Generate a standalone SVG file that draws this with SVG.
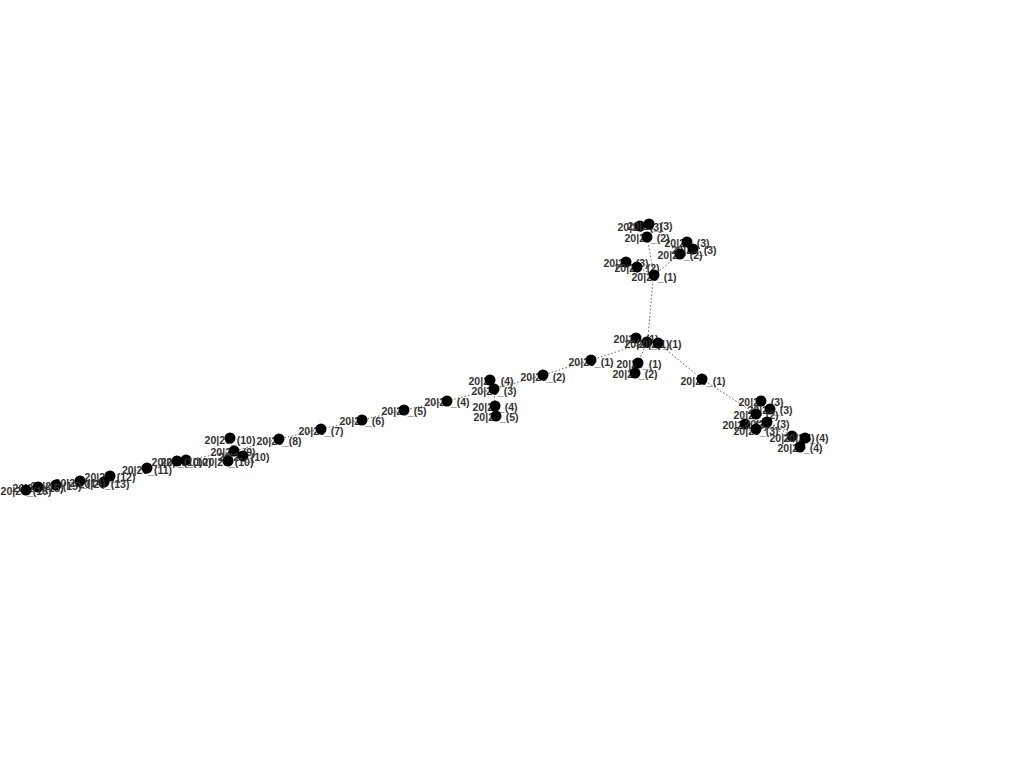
<svg xmlns="http://www.w3.org/2000/svg" width="1024" height="768" viewBox="0 0 1024 768">
<style>
.bg{fill:#fff}
.e line{stroke:#555;stroke-width:0.9;stroke-dasharray:1.6,2}
.n circle{fill:#000}
.n text{font-family:"Liberation Sans",Arial,sans-serif;font-weight:bold;font-size:10.5px;fill:#333;text-anchor:middle}
</style>
<rect class="bg" width="1024" height="768"/>
<g id="connectors" class="e">
<line x1="653" y1="280" x2="648" y2="337"/>
<line x1="654" y1="275" x2="647" y2="237"/>
<line x1="647" y1="237" x2="640" y2="226"/>
<line x1="647" y1="237" x2="649" y2="224"/>
<line x1="654" y1="275" x2="680" y2="254"/>
<line x1="680" y1="254" x2="687" y2="242"/>
<line x1="680" y1="254" x2="693" y2="249"/>
<line x1="654" y1="275" x2="637" y2="267"/>
<line x1="637" y1="267" x2="626" y2="262"/>
<line x1="647" y1="342" x2="591" y2="360"/>
<line x1="647" y1="342" x2="636" y2="338"/>
<line x1="647" y1="342" x2="658" y2="343"/>
<line x1="647" y1="342" x2="638" y2="363"/>
<line x1="638" y1="363" x2="635" y2="373"/>
<line x1="658" y1="343" x2="702" y2="379"/>
<line x1="702" y1="379" x2="756" y2="414"/>
<line x1="756" y1="414" x2="761" y2="401"/>
<line x1="756" y1="414" x2="770" y2="409"/>
<line x1="756" y1="414" x2="745" y2="424"/>
<line x1="756" y1="414" x2="767" y2="422"/>
<line x1="756" y1="414" x2="756" y2="429"/>
<line x1="767" y1="422" x2="792" y2="436"/>
<line x1="767" y1="422" x2="805" y2="438"/>
<line x1="767" y1="422" x2="800" y2="447"/>
<line x1="591" y1="360" x2="543" y2="375"/>
<line x1="543" y1="375" x2="494" y2="389"/>
<line x1="494" y1="389" x2="490" y2="380"/>
<line x1="494" y1="389" x2="495" y2="406"/>
<line x1="495" y1="406" x2="496" y2="416"/>
<line x1="494" y1="389" x2="447" y2="401"/>
<line x1="447" y1="401" x2="404" y2="410"/>
<line x1="404" y1="410" x2="362" y2="420"/>
<line x1="362" y1="420" x2="321" y2="429"/>
<line x1="321" y1="429" x2="279" y2="439"/>
<line x1="279" y1="439" x2="234" y2="451"/>
<line x1="234" y1="451" x2="230" y2="438"/>
<line x1="234" y1="451" x2="243" y2="456"/>
<line x1="234" y1="451" x2="228" y2="461"/>
<line x1="234" y1="451" x2="186" y2="460"/>
<line x1="186" y1="460" x2="177" y2="461"/>
<line x1="177" y1="461" x2="147" y2="468"/>
<line x1="147" y1="468" x2="110" y2="476"/>
<line x1="110" y1="476" x2="104" y2="482"/>
<line x1="104" y1="482" x2="80" y2="481"/>
<line x1="80" y1="481" x2="56" y2="485"/>
<line x1="56" y1="485" x2="38" y2="487"/>
<line x1="38" y1="487" x2="26" y2="490"/>
</g>
<g id="t3a" class="n"><text x="640" y="231">20|20_(3)</text><circle cx="640" cy="226" r="5.5"/></g>
<g id="t3b" class="n"><text x="650" y="230">20|20_(3)</text><circle cx="649" cy="224" r="5.5"/></g>
<g id="t2a" class="n"><text x="647" y="242">20|20_(2)</text><circle cx="647" cy="237" r="5.5"/></g>
<g id="t3c" class="n"><text x="687" y="247">20|20_(3)</text><circle cx="687" cy="242" r="5.5"/></g>
<g id="t3d" class="n"><text x="694" y="254">20|20_(3)</text><circle cx="693" cy="249" r="5.5"/></g>
<g id="t2b" class="n"><text x="680" y="259">20|20_(2)</text><circle cx="680" cy="254" r="5.5"/></g>
<g id="t3e" class="n"><text x="626" y="267">20|20_(3)</text><circle cx="626" cy="262" r="5.5"/></g>
<g id="t2c" class="n"><text x="637" y="272">20|20_(2)</text><circle cx="637" cy="267" r="5.5"/></g>
<g id="t1" class="n"><text x="654" y="281">20|20_(1)</text><circle cx="654" cy="275" r="5.5"/></g>
<g id="c1" class="n"><text x="636" y="343">20|20_(1)</text><circle cx="636" cy="338" r="5.5"/></g>
<g id="c2" class="n"><text x="647" y="348">20|20_(1)</text><circle cx="647" cy="342" r="5.5"/></g>
<g id="c3" class="n"><text x="659" y="348">20|20_(1)</text><circle cx="658" cy="343" r="5.5"/></g>
<g id="c4" class="n"><text x="639" y="368">20|20_(1)</text><circle cx="638" cy="363" r="5.5"/></g>
<g id="c5" class="n"><text x="635" y="378">20|20_(2)</text><circle cx="635" cy="373" r="5.5"/></g>
<g id="r1" class="n"><text x="703" y="385">20|20_(1)</text><circle cx="702" cy="379" r="5.5"/></g>
<g id="r2" class="n"><text x="761" y="406">20|20_(3)</text><circle cx="761" cy="401" r="5.5"/></g>
<g id="r3" class="n"><text x="770" y="414">20|20_(3)</text><circle cx="770" cy="409" r="5.5"/></g>
<g id="r4" class="n"><text x="756" y="419">20|20_(2)</text><circle cx="756" cy="414" r="5.5"/></g>
<g id="r5" class="n"><text x="745" y="429">20|20_(3)</text><circle cx="745" cy="424" r="5.5"/></g>
<g id="r6" class="n"><text x="767" y="428">20|20_(3)</text><circle cx="767" cy="422" r="5.5"/></g>
<g id="r7" class="n"><text x="756" y="435">20|20_(3)</text><circle cx="756" cy="429" r="5.5"/></g>
<g id="r8" class="n"><text x="792" y="442">20|20_(4)</text><circle cx="792" cy="436" r="5.5"/></g>
<g id="r9" class="n"><text x="806" y="442">20|20_(4)</text><circle cx="805" cy="438" r="5.5"/></g>
<g id="r10" class="n"><text x="800" y="452">20|20_(4)</text><circle cx="800" cy="447" r="5.5"/></g>
<g id="m1" class="n"><text x="591" y="366">20|20_(1)</text><circle cx="591" cy="360" r="5.5"/></g>
<g id="m2" class="n"><text x="543" y="381">20|20_(2)</text><circle cx="543" cy="375" r="5.5"/></g>
<g id="m3" class="n"><text x="491" y="385">20|20_(4)</text><circle cx="490" cy="380" r="5.5"/></g>
<g id="m4" class="n"><text x="494" y="395">20|20_(3)</text><circle cx="494" cy="389" r="5.5"/></g>
<g id="m5" class="n"><text x="495" y="411">20|20_(4)</text><circle cx="495" cy="406" r="5.5"/></g>
<g id="m6" class="n"><text x="496" y="421">20|20_(5)</text><circle cx="496" cy="416" r="5.5"/></g>
<g id="m7" class="n"><text x="447" y="406">20|20_(4)</text><circle cx="447" cy="401" r="5.5"/></g>
<g id="m8" class="n"><text x="404" y="415">20|20_(5)</text><circle cx="404" cy="410" r="5.5"/></g>
<g id="m9" class="n"><text x="362" y="425">20|20_(6)</text><circle cx="362" cy="420" r="5.5"/></g>
<g id="m10" class="n"><text x="321" y="435">20|20_(7)</text><circle cx="321" cy="429" r="5.5"/></g>
<g id="m11" class="n"><text x="279" y="445">20|20_(8)</text><circle cx="279" cy="439" r="5.5"/></g>
<g id="m12" class="n"><text x="230" y="444">20|20_(10)</text><circle cx="230" cy="438" r="5.5"/></g>
<g id="m13" class="n"><text x="233" y="456">20|20_(9)</text><circle cx="234" cy="451" r="5.5"/></g>
<g id="m14" class="n"><text x="244" y="461">20|20_(10)</text><circle cx="243" cy="456" r="5.5"/></g>
<g id="m15" class="n"><text x="228" y="466">20|20_(10)</text><circle cx="228" cy="461" r="5.5"/></g>
<g id="m16" class="n"><text x="186" y="466">20|20_(10)</text><circle cx="186" cy="460" r="5.5"/></g>
<g id="m17" class="n"><text x="177" y="466">20|20_(10)</text><circle cx="177" cy="461" r="5.5"/></g>
<g id="m18" class="n"><text x="147" y="474">20|20_(11)</text><circle cx="147" cy="468" r="5.5"/></g>
<g id="m19" class="n"><text x="110" y="481">20|20_(12)</text><circle cx="110" cy="476" r="5.5"/></g>
<g id="m20" class="n"><text x="104" y="488">20|20_(13)</text><circle cx="104" cy="482" r="5.5"/></g>
<g id="m21" class="n"><text x="80" y="487">20|20_(14)</text><circle cx="80" cy="481" r="5.5"/></g>
<g id="m22" class="n"><text x="56" y="490">20|20_(15)</text><circle cx="56" cy="485" r="5.5"/></g>
<g id="m23" class="n"><text x="38" y="492">20|20_(15)</text><circle cx="38" cy="487" r="5.5"/></g>
<g id="m24" class="n"><text x="26" y="495">20|20_(16)</text><circle cx="26" cy="490" r="5.5"/></g>
</svg>
